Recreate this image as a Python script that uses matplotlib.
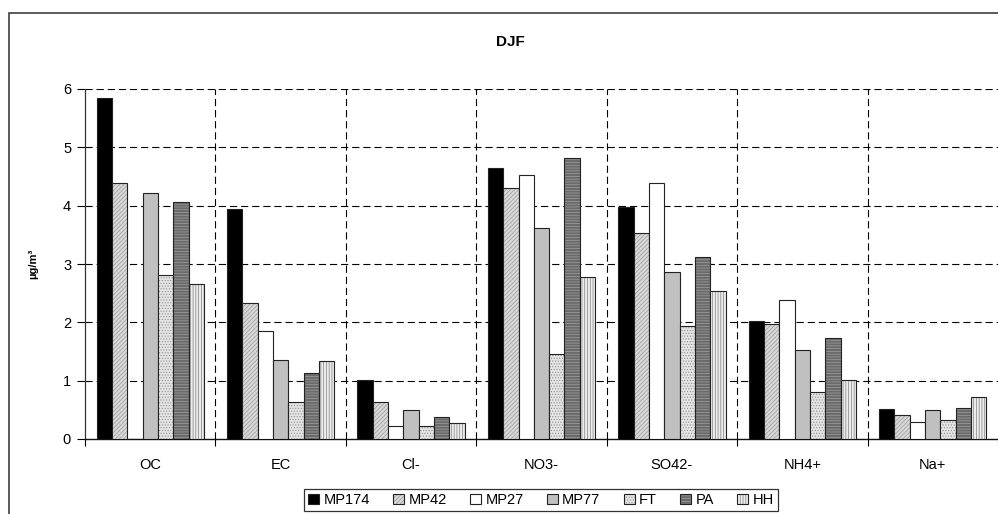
import numpy as np
import matplotlib
matplotlib.use("Agg")
import matplotlib.pyplot as plt
from matplotlib.patches import Rectangle

plt.rcParams['font.family'] = ['Liberation Sans', 'DejaVu Sans']
plt.rcParams['hatch.linewidth'] = 0.5

# data (µg/m³)
species = ['OC', 'EC', 'Cl-', 'NO3-', 'SO42-', 'NH4+', 'Na+']
sites = ['MP174', 'MP42', 'MP27', 'MP77', 'FT', 'PA', 'HH']
mp174 = [5.84, 3.95, 1.01, 4.64, 3.97, 2.02, 0.52]
mp42 = [4.39, 2.33, 0.63, 4.31, 3.53, 1.97, 0.42]
mp27 = [0.0, 1.86, 0.22, 4.53, 4.39, 2.38, 0.30]
mp77 = [4.21, 1.36, 0.49, 3.61, 2.87, 1.53, 0.50]
ft = [2.81, 0.63, 0.22, 1.46, 1.93, 0.80, 0.32]
pa = [4.06, 1.13, 0.37, 4.81, 3.12, 1.74, 0.54]
hh = [2.66, 1.33, 0.27, 2.77, 2.54, 1.02, 0.72]
series = [mp174, mp42, mp27, mp77, ft, pa, hh]

# fill / hatch for each site (Excel-like b/w patterns)
styles = [
    dict(facecolor='black', hatch=None, hcol='black'),
    dict(facecolor='#d8d8d8', hatch='////////', hcol='#9a9a9a'),
    dict(facecolor='white', hatch=None, hcol='black'),
    dict(facecolor='#c0c0c0', hatch=None, hcol='black'),
    dict(facecolor='#e4e4e4', hatch='......', hcol='#909090'),
    dict(facecolor='#6a6a6a', hatch='------', hcol='#a0a0a0'),
    dict(facecolor='#ececec', hatch='||||||', hcol='#808080'),
]

fig = plt.figure(figsize=(9.98, 5.14), dpi=100)
ax = fig.add_axes([85 / 998, 75 / 514, 913 / 998, 350 / 514])

# outer chart border (cropped on right and bottom)
fig.patches.append(Rectangle((9 / 998, -0.1), 1.2, (514 - 13) / 514 + 0.1,
                             transform=fig.transFigure, fill=False,
                             edgecolor='#404040', linewidth=1.2))

x = np.arange(len(species))
bw = 0.1175
for i, (vals, st) in enumerate(zip(series, styles)):
    off = (i - 3) * bw
    bars = ax.bar(x + off, vals, bw, facecolor=st['facecolor'],
                  edgecolor='#222222', linewidth=0.8, label=sites[i], zorder=3)
    if st['hatch']:
        for b in bars:
            b.set_hatch(st['hatch'])
            b._hatch_color = matplotlib.colors.to_rgba(st['hcol'])

ax.set_xlim(-0.5, len(species) - 0.5)
ax.set_ylim(0, 6)
ax.set_yticks(range(0, 7))
ax.set_xticks(x)
ax.set_xticklabels(species, fontsize=10.5)
ax.set_xticks(np.arange(-0.5, len(species)), minor=True)
ax.tick_params(axis='x', which='major', length=0, pad=14)
ax.tick_params(axis='x', which='minor', length=5, width=0.8, direction='out')
ax.tick_params(axis='y', length=6, width=0.8, direction='out', labelsize=10.5, pad=4)

# dashed grid
for y in range(1, 7):
    ax.axhline(y, color='black', linewidth=0.8, dashes=(6.5, 3.5), zorder=1)
for xb in np.arange(0.5, len(species) - 0.5):
    ax.axvline(xb, color='black', linewidth=0.8, dashes=(6.5, 3.5), zorder=1)

for s in ['top', 'right']:
    ax.spines[s].set_visible(False)
ax.spines['left'].set_color('#333333')
ax.spines['bottom'].set_color('#111111')
ax.spines['left'].set_linewidth(0.9)
ax.spines['bottom'].set_linewidth(1.0)

fig.text(510 / 998, 1 - 42 / 514, 'DJF', ha='center', va='center',
         fontsize=11, fontweight='bold')
fig.text(33 / 998, 1 - 264 / 514, 'µg/m³', ha='center', va='center',
         rotation=90, fontsize=8, fontweight='bold')

leg = ax.legend(loc='center', bbox_to_anchor=(541 / 998, 1 - 500 / 514),
                bbox_transform=fig.transFigure, ncol=7, fontsize=10.5,
                frameon=True, fancybox=False, edgecolor='black',
                handlelength=0.75, handleheight=0.75, handletextpad=0.3,
                columnspacing=1.6, borderpad=0.25, borderaxespad=0)
leg.get_frame().set_linewidth(0.9)

fig.savefig('out.png', dpi=100)
